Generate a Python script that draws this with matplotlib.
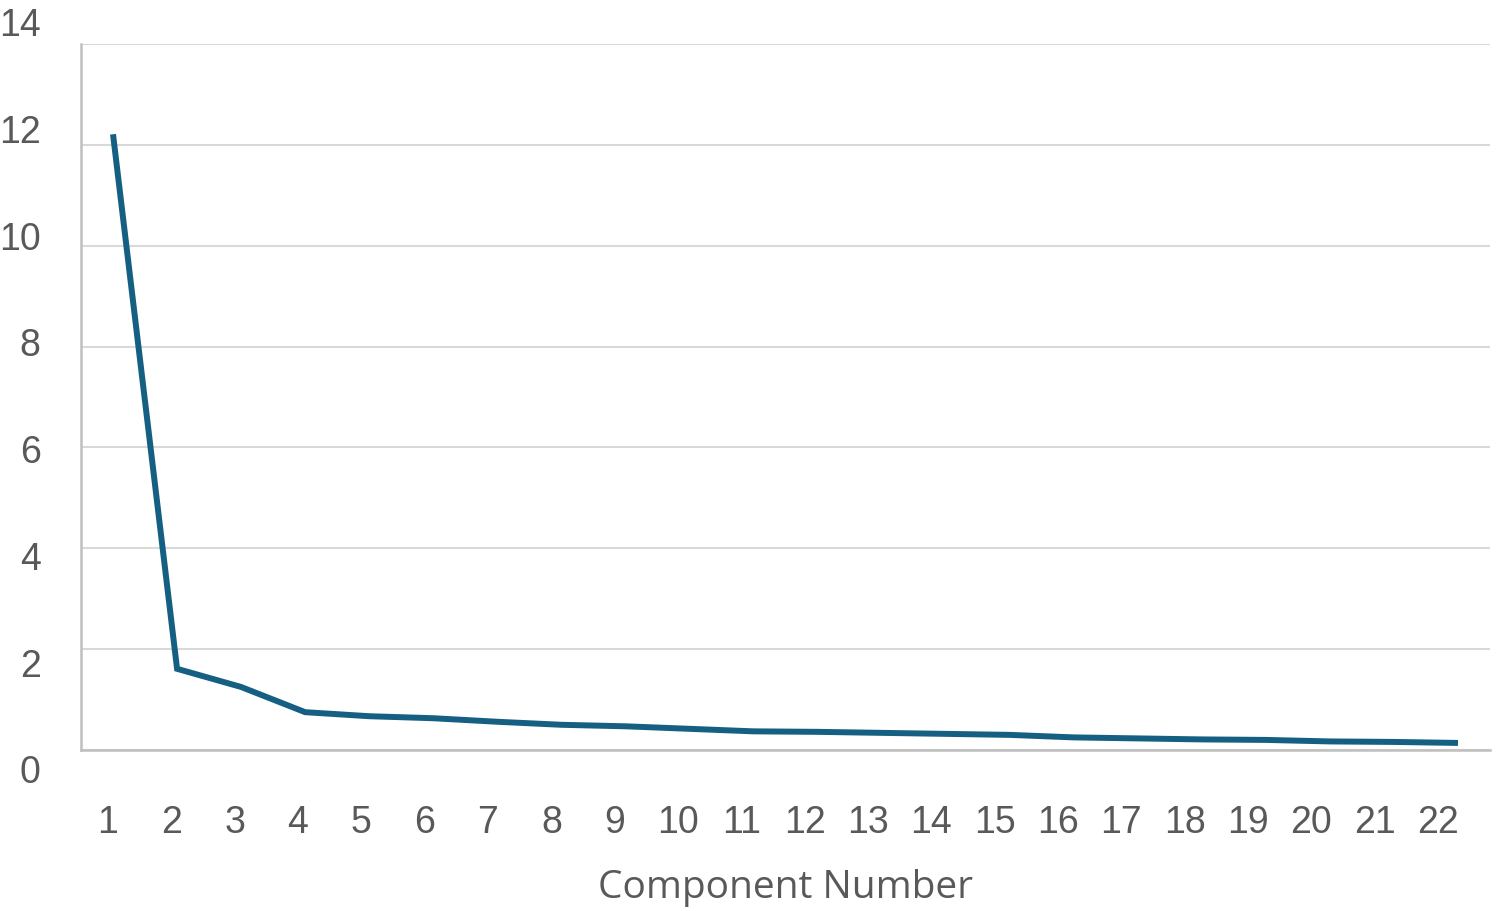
import matplotlib
matplotlib.use("Agg")
import matplotlib.pyplot as plt

components = list(range(1, 23))
eigenvalues = [12.21, 1.61, 1.25, 0.75, 0.67, 0.63, 0.56, 0.50, 0.47, 0.42, 0.37,
               0.36, 0.34, 0.32, 0.30, 0.25, 0.23, 0.21, 0.20, 0.17, 0.16, 0.14]
y_ticks = [0, 2, 4, 6, 8, 10, 12, 14]
x_label = "Component Number"

plt.rcParams['font.family'] = ['Liberation Sans', 'DejaVu Sans']
text_color = '#595959'

W, H = 1497, 912
fig = plt.figure(figsize=(W / 100, H / 100), dpi=100)

# main plotting axes
ax_l, ax_r, ax_t, ax_b = 81, 1490, 45, 751
ax = fig.add_axes([ax_l / W, 1 - ax_b / H, (ax_r - ax_l) / W, (ax_b - ax_t) / H])
ax.plot(components, eigenvalues, color='#156082', linewidth=4.3,
        solid_capstyle='butt', solid_joinstyle='miter')
ax.set_xlim(0.5, 22.5)
ax.set_ylim(0, 14)
ax.set_yticks(y_ticks)
ax.set_xticks(components)
ax.tick_params(axis='both', length=0, labelleft=False, labelbottom=False)
ax.grid(axis='y', color='#d9d9d9', linewidth=1.5)
ax.set_axisbelow(True)
for s in ['top', 'right']:
    ax.spines[s].set_visible(False)
for s in ['left', 'bottom']:
    ax.spines[s].set_color('#bfbfbf')
    ax.spines[s].set_linewidth(1.8)

# x tick labels axes (labels in reference are spaced slightly tighter than points)
xl_l, xl_r = 76.3, 1469.7
xlab = fig.add_axes([xl_l / W, 1 - ax_b / H, (xl_r - xl_l) / W, 0.001])
xlab.set_xlim(0.5, 22.5)
xlab.set_xticks(components)
xlab.set_xticklabels([str(c) for c in components])
xlab.tick_params(axis='x', length=0, labelsize=27, colors=text_color, pad=39)
xlab.set_yticks([])
for s in xlab.spines.values():
    s.set_visible(False)
xlab.patch.set_alpha(0)
xlab.set_xlabel(x_label, fontsize=28, color=text_color, labelpad=18,
                family=['Open Sans', 'DejaVu Sans'])
xlab.xaxis.set_label_coords((785.5 - xl_l) / (xl_r - xl_l), 0, transform=xlab.transAxes)
xlab.xaxis.label.set_verticalalignment('baseline')
from matplotlib.transforms import blended_transform_factory, ScaledTranslation
xlab.xaxis.label.set_transform(
    blended_transform_factory(xlab.transAxes, fig.transFigure)
    + ScaledTranslation(0, 0, fig.dpi_scale_trans))
xlab.xaxis.label.set_position(((785.5 - xl_l) / (xl_r - xl_l), 1 - 898 / H))

# y tick labels axes (labels in reference are spaced slightly wider than gridlines)
lab_b, lab_t = 769.5, 22
lab = fig.add_axes([ax_l / W, 1 - lab_b / H, 0.001, (lab_b - lab_t) / H])
lab.set_ylim(0, 14)
lab.set_yticks(y_ticks)
lab.set_yticklabels([str(v) for v in y_ticks])
lab.tick_params(axis='y', length=0, labelsize=27, colors=text_color, pad=29)
lab.set_xticks([])
for s in lab.spines.values():
    s.set_visible(False)
lab.patch.set_alpha(0)

fig.savefig('out.png', dpi=100)
